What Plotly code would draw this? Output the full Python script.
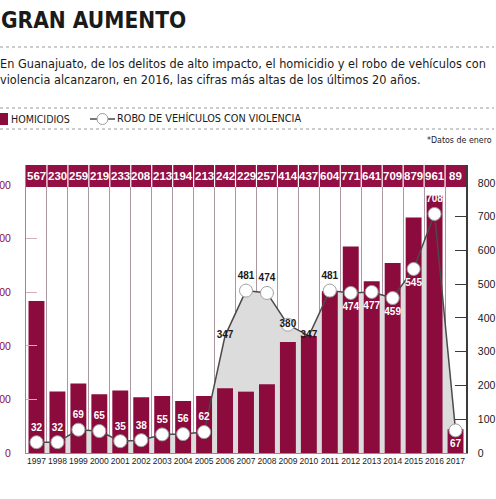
import plotly.graph_objects as go

# ---- data ----
years = [str(y) for y in range(1997, 2018)]
homicidios = [567, 230, 259, 219, 233, 208, 213, 194, 213, 242, 229, 257,
              414, 437, 604, 771, 641, 709, 879, 961, 89]
robo = [32, 32, 69, 65, 35, 38, 55, 56, 62, 347, 481, 474,
        380, 347, 481, 474, 477, 459, 545, 708, 67]
left_ticks = [0, 200, 400, 600, 800, 1000]
right_ticks = [0, 100, 200, 300, 400, 500, 600, 700, 800]

title = "GRAN AUMENTO"
subtitle = ("En Guanajuato, de los delitos de alto impacto, el homicidio y el robo de vehículos con<br>"
            "violencia alcanzaron, en 2016, las cifras más altas de los últimos 20 años.")
leg1 = "HOMICIDIOS"
leg2 = "ROBO DE VEHÍCULOS CON VIOLENCIA"
note = "*Datos de enero"

# ---- style ----
W, H = 496, 499
L, R, T, B = 26, 30, 165, 46
PW, PH = W - L - R, H - T - B
MAROON = "#8c0b3d"
HDR = "#940f44"
TXT = "DejaVu Sans Condensed, Liberation Sans, sans-serif"
NUM = "Liberation Sans, Arial, sans-serif"
LMAX = 1075
RMAX = 853


def px(x):
    return (x - L) / PW


def py(y):
    return (H - B - y) / PH


label_pos = (["top center"] * 9 +
             ["middle center", "top center", "top center", "middle center", "middle center",
              "top center", "bottom center", "bottom center", "bottom center", "bottom center",
              "top center", "bottom center"])
label_col = ["white"] * 9 + ["#1a1a1a"] * 6 + ["white"] * 6
msize = [13] * len(robo)
msize[9] = 0
msize[13] = 0

fig = go.Figure()
# gray area under the line (main axis, drawn below bars)
fig.add_trace(go.Scatter(x=years, y=robo, yaxis="y", mode="lines", fill="tozeroy",
                         fillcolor="#dcdcdc", line=dict(width=0), hoverinfo="skip",
                         showlegend=False))
fig.add_trace(go.Bar(x=years, y=homicidios, yaxis="y2", marker_color=MAROON,
                     marker_line_width=0, width=0.76, showlegend=False))
fig.add_trace(go.Scatter(x=years, y=robo, yaxis="y3", mode="lines+markers+text",
                         line=dict(color="#4a4a4a", width=1.5),
                         marker=dict(size=msize, color="white", opacity=1,
                                     line=dict(color="#a0a0a0", width=1)),
                         text=[str(v) for v in robo], textposition=label_pos,
                         textfont=dict(family=NUM, size=10, color=label_col, weight="bold"),
                         showlegend=False, cliponaxis=False))

shapes = []
annotations = []

# header band with values
hdr_top, hdr_bot = 165, 187
shapes.append(dict(type="rect", xref="paper", yref="paper", x0=0, x1=1,
                   y0=py(hdr_bot), y1=py(hdr_top), fillcolor=HDR, line=dict(width=0),
                   layer="above"))
n = len(years)
for i in range(1, n):
    xx = i / n
    shapes.append(dict(type="line", xref="paper", yref="paper", x0=xx, x1=xx,
                       y0=py(hdr_bot), y1=py(hdr_top), line=dict(color="white", width=1.2),
                       layer="above"))
for i, v in enumerate(homicidios):
    annotations.append(dict(x=(i + 0.5) / n, xref="paper", y=py((hdr_top + hdr_bot) / 2),
                            yref="paper", xanchor="center", yanchor="middle",
                            text="<b>" + str(v) + "</b>", showarrow=False,
                            font=dict(family=NUM, size=11.5, color="white")))

# dotted rules
for yy in (47, 108, 129):
    shapes.append(dict(type="line", xref="paper", yref="paper", x0=px(0), x1=px(494),
                       y0=py(yy), y1=py(yy), line=dict(color="#9a9a9a", width=1, dash="dot")))

# title + subtitle
annotations.append(dict(xref="paper", yref="paper", x=px(-1), y=py(20), xanchor="left",
                        yanchor="middle", text="<b>" + title + "</b>", showarrow=False,
                        font=dict(family=TXT, size=22.5, color="#1a1a1a")))
annotations.append(dict(xref="paper", yref="paper", x=px(-2), y=py(71), xanchor="left",
                        yanchor="middle", text=subtitle, showarrow=False, align="left",
                        font=dict(family=TXT, size=12.6, color="#1a1a1a")))

# legend
shapes.append(dict(type="rect", xref="paper", yref="paper", x0=px(0), x1=px(8),
                   y0=py(125), y1=py(113), fillcolor=MAROON, line=dict(width=0)))
annotations.append(dict(xref="paper", yref="paper", x=px(9), y=py(119), xanchor="left",
                        yanchor="middle", text=leg1, showarrow=False,
                        font=dict(family=TXT, size=10.6, color="#1a1a1a")))
shapes.append(dict(type="line", xref="paper", yref="paper", x0=px(90), x1=px(115),
                   y0=py(119), y1=py(119), line=dict(color="#4a4a4a", width=1.5)))
shapes.append(dict(type="circle", xref="paper", yref="paper", x0=px(97), x1=px(108),
                   y0=py(124.5), y1=py(113.5), fillcolor="white",
                   line=dict(color="#9a9a9a", width=1)))
annotations.append(dict(xref="paper", yref="paper", x=px(115), y=py(119), xanchor="left",
                        yanchor="middle", text=leg2, showarrow=False,
                        font=dict(family=TXT, size=10.8, color="#1a1a1a")))
annotations.append(dict(xref="paper", yref="paper", x=px(494), y=py(140), xanchor="right",
                        yanchor="middle", text=note, showarrow=False,
                        font=dict(family=TXT, size=8.8, color="#1a1a1a")))

fig.update_layout(
    width=W, height=H, margin=dict(l=L, r=R, t=T, b=B),
    paper_bgcolor="white", plot_bgcolor="white",
    showlegend=False,
    font=dict(family=TXT, color="#1a1a1a"),
    xaxis=dict(type="category", tickson="boundaries", showgrid=True, gridcolor="#ab97a2",
               gridwidth=1, ticks="", showline=True, linecolor="#8f8f8f", linewidth=1,
               tickfont=dict(family=NUM, size=8.5, color="#1a1a1a"), tickangle=0,
               range=[-0.5, len(years) - 0.5], zeroline=False, automargin=False),
    yaxis=dict(range=[0, RMAX], showticklabels=False, showgrid=False, zeroline=False,
               ticks="", showline=False, automargin=False),
    yaxis2=dict(range=[0, LMAX], overlaying="y", side="left", tickvals=left_ticks,
                showgrid=False, zeroline=False, ticks="inside", ticklen=11,
                tickcolor="#d4b0be", showline=True, linecolor="#8f8f8f", linewidth=1,
                tickfont=dict(family=NUM, size=10.5, color=MAROON), ticklabelstandoff=12,
                automargin=False),
    yaxis3=dict(range=[0, RMAX], overlaying="y", side="right", tickvals=right_ticks,
                showgrid=False, zeroline=False, ticks="inside", ticklen=11,
                tickcolor="#3a3a3a", showline=True, linecolor="#3a3a3a", linewidth=1.5,
                tickfont=dict(family=NUM, size=10.5, color="#1a1a1a"), ticklabelstandoff=8,
                automargin=False),
    shapes=shapes, annotations=annotations,
)

fig.write_html("out.html", config={"displayModeBar": False},
               post_script="document.body.style.margin='0px';"
                           "document.body.style.padding='0px';"
                           "document.body.style.overflow='hidden';")
